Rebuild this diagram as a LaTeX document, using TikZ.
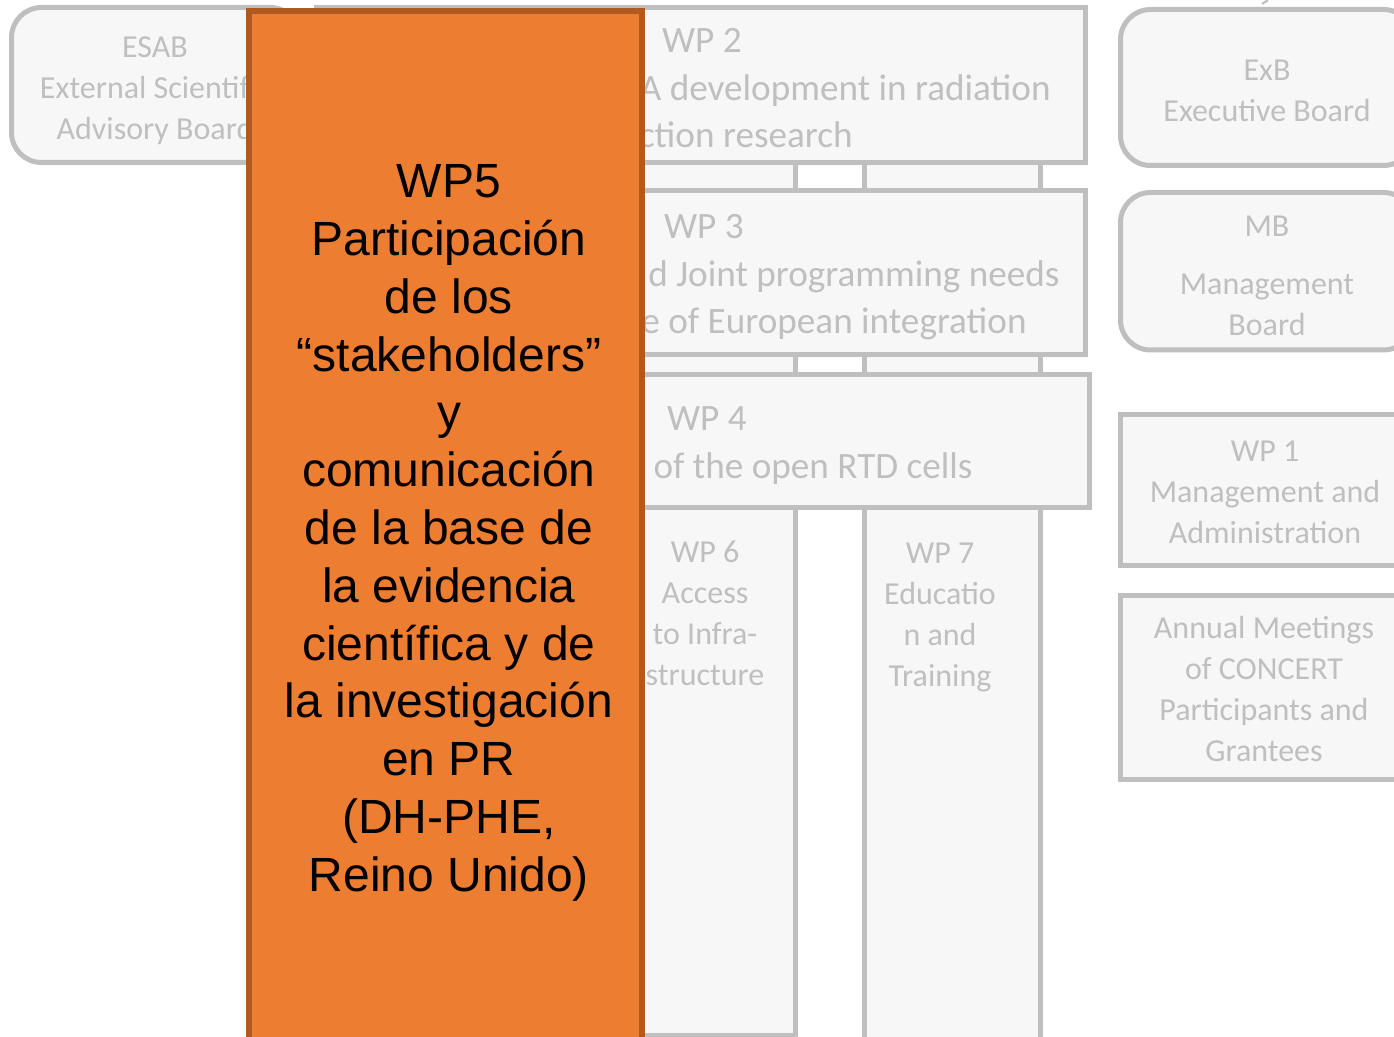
\documentclass[tikz,border=0pt]{standalone}
\usepackage{fontspec}
\setmainfont{Liberation Sans}
\newfontfamily\carlito{Carlito}
\definecolor{boxline}{HTML}{BFBFBF}
\definecolor{boxfill}{HTML}{F7F7F7}
\definecolor{wpfill}{HTML}{ED7D31}
\definecolor{wpline}{HTML}{AE5A21}
\tikzset{
    greybox/.style = {draw=boxline, fill=boxfill, line width=2.5pt},
    roundbox/.style = {greybox, rounded corners=15pt},
    greytext/.style = {text=boxline, inner sep=0pt, align=center, font=\carlito\fontsize{16}{20.5}\selectfont},
    wptext/.style = {text=boxline, inner sep=0pt, anchor=base east, font=\carlito\fontsize{18.6}{23.5}\selectfont},
    wpfive/.style = {fill=wpfill, draw=wpline, line width=3pt},
}
\begin{document}
\begin{tikzpicture}[x=0.5pt, y=-0.5pt]
                \useasboundingbox (0, 0) rectangle (1394, 1037);
                \clip (0, 0) rectangle (1394, 1037);
                % columns WP 6 and WP 7
                \draw [greybox] (615, 100) rectangle (795.5, 1035.5);
                \draw [greybox] (864.5, 100) rectangle (1040.5, 1060);
                % horizontal work packages
                \draw [greybox] (316, 7.5) rectangle (1085.5, 162.5);
                \draw [greybox] (316, 190.5) rectangle (1085.5, 354.5);
                \draw [greybox] (316, 374.5) rectangle (1089.5, 507.5);
                % boards
                \draw [roundbox] (11.5, 7.5) rectangle (300, 162.5);
                \draw [roundbox] (1120.5, 9.5) rectangle (1413.5, 165.5);
                \draw [roundbox] (1120.5, 192.5) rectangle (1413.5, 350);
                \draw [greybox] (1120, 414.5) rectangle (1410, 565.5);
                \draw [greybox] (1120, 596) rectangle (1408, 779.5);
                \draw [boxline, line width=1pt] (1268, 0) -- (1262, 4);
                \node (esab) [greytext] at (155, 90.5) {ESAB\\External Scientific\\Advisory Board};
                \node (exb) [greytext] at (1267, 90.5) {ExB\\Executive Board};
                \node (mb) [greytext] at (1267, 275.5) {MB\\[8.5pt]Management\\Board};
                \node (wp1) [greytext] at (1265, 492.5) {WP 1\\Management and\\Administration};
                \node (meet) [greytext] at (1264, 689.5) {Annual Meetings\\of CONCERT\\Participants and\\Grantees};
                \node (wp6) [greytext] at (705, 613.5) {WP 6\\Access\\to Infra-\\structure};
                \node (wp7) [greytext] at (940, 617) {WP 7\\Educatio\\n and\\Training};
                \node (wp2a) [wptext] at (742, 53) {WP 2};
                \node (wp2b) [wptext] at (1051, 101) {A development in radiation};
                \node (wp2c) [wptext] at (853, 148) {ction research};
                \node (wp3a) [wptext] at (744, 239) {WP 3};
                \node (wp3b) [wptext] at (1060, 287) {d Joint programming needs};
                \node (wp3c) [wptext] at (1027, 334) {e of European integration};
                \node (wp4a) [wptext] at (747, 430.5) {WP 4};
                \node (wp4b) [wptext] at (973, 479) {of the open RTD cells};
                % WP5 on top
                \draw [wpfive] (248.5, 11) rectangle (641.5, 1060);
                \node (wp5) [inner sep=0pt, align=center, font=\fontsize{24}{28.9}\selectfont] at (449, 533)
                    {WP5\\Participación\\de los\\“stakeholders”\\y\\comunicación\\de la base de\\la evidencia\\científica y de\\la investigación\\en PR\\(DH-PHE,\\Reino Unido)};
            \end{tikzpicture}
\end{document}
